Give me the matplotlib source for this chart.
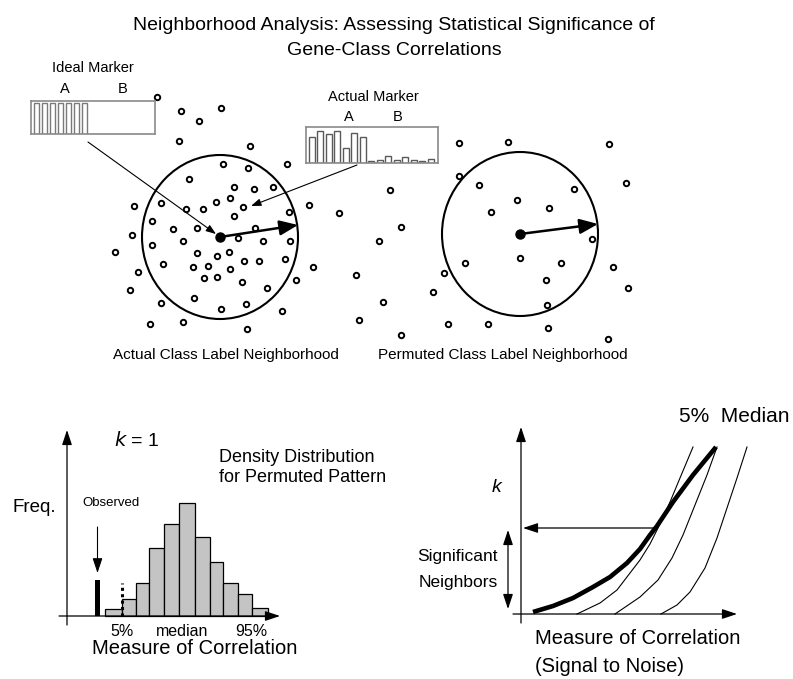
import numpy as np
import matplotlib.pyplot as plt
from matplotlib.patches import Ellipse

plt.rcParams['font.family'] = ['Liberation Sans', 'DejaVu Sans']

W, H = 793, 679

# ------------------------------------------------------------
# Data
# ------------------------------------------------------------
# gene positions (pixel space of the top panel)
genes_x = [157, 181, 221, 199, 179, 250, 223, 248, 287, 189, 234, 254, 273, 161,
           134, 216, 230, 186, 203, 243, 234, 289, 309, 152, 173, 197, 255, 132,
           238, 183, 263, 290, 152, 115, 197, 217, 229, 163, 259, 285, 244, 193,
           208, 230, 313, 138, 204, 217, 296, 242, 130, 267, 194, 161, 246, 221,
           282, 150, 183, 247,
           459, 508, 609, 459, 479, 574, 626, 390, 517, 549, 491, 339, 401, 379,
           592, 520, 561, 465, 444, 613, 356, 546, 628, 433, 383, 547, 359, 448,
           488, 401, 548, 608]
genes_y = [97, 111, 108, 121, 141, 146, 164, 168, 164, 179, 187, 189, 187, 203,
           206, 202, 198, 209, 209, 207, 216, 212, 205, 221, 229, 228, 228, 235,
           238, 241, 241, 241, 245, 252, 253, 256, 252, 264, 261, 259, 261, 267,
           266, 269, 267, 272, 278, 277, 280, 282, 290, 288, 298, 303, 304, 309,
           311, 324, 322, 329,
           143, 142, 144, 176, 185, 189, 183, 190, 200, 208, 212, 213, 227, 241,
           239, 258, 263, 263, 273, 267, 275, 280, 288, 292, 302, 305, 320, 324,
           324, 335, 328, 339]

# neighbourhood centres and radii
centers_x = [220, 520]
centers_y = [237, 234]
radius_tip_x = [298, 598]
radius_tip_y = [225, 224]

# marker expression profiles: 7 class A samples, 8 class B samples
ideal_marker = [1, 1, 1, 1, 1, 1, 1, 0, 0, 0, 0, 0, 0, 0, 0]
actual_marker = [26, 32, 29, 32, 15, 30, 26, 2, 3, 7, 3, 6, 3, 2, 4]

# permuted density histogram (k = 1)
bin_edges = [38, 55, 69, 82, 97, 112, 128, 143, 156, 171, 185, 201]
bin_freq = [7, 17, 33, 68, 92, 113, 79, 54, 33, 22, 8]
observed_x = 30.5
observed_freq = 36
cut_5pct = 55
cut_5pct_h = 33

# significant neighbours vs correlation
thick_x = [12, 32, 52, 72, 89, 106, 119, 129, 136, 152, 172, 195]
thick_y = [2, 8, 16, 27, 37, 51, 65, 79, 88, 112, 139, 167]
curve_5_x = [56, 79, 96, 109, 119, 129, 137, 149, 159, 172]
curve_5_y = [0, 11, 24, 41, 54, 70, 86, 112, 136, 167]
curve_med_x = [94, 119, 137, 151, 162, 174, 186, 196]
curve_med_y = [0, 17, 34, 56, 79, 109, 139, 167]
curve_hi_x = [140, 156, 169, 184, 196, 206, 216, 226]
curve_hi_y = [0, 9, 22, 46, 76, 106, 136, 167]
k_observed = 86


def px_axes(left, top, right, bottom):
    return fig.add_axes([left / W, 1 - bottom / H, (right - left) / W, (bottom - top) / H])


def arrow(ax, start, end, lw=1.0, hl=0.8, hw=0.3, style='-|>'):
    ax.annotate('', xy=end, xytext=start,
                arrowprops=dict(arrowstyle=f'{style},head_length={hl},head_width={hw}',
                                lw=lw, color='black', shrinkA=0, shrinkB=0))


fig = plt.figure(figsize=(W / 100, H / 100), dpi=100)

# ------------------------------------------------------------
# Overlay / top panel in pixel coordinates
# ------------------------------------------------------------
ax = fig.add_axes([0, 0, 1, 1])
ax.set_xlim(0, W)
ax.set_ylim(H, 0)
ax.axis('off')

ax.text(394, 30, 'Neighborhood Analysis: Assessing Statistical Significance of',
        ha='center', va='baseline', fontsize=14)
ax.text(394, 55, 'Gene-Class Correlations', ha='center', va='baseline', fontsize=14)

ax.plot(genes_x, genes_y, 'o', ms=3.9, mfc='white', mec='black', mew=1.4, ls='none')
for cx, cy in zip(centers_x, centers_y):
    ax.add_patch(Ellipse((cx, cy), 156, 164, fill=False, lw=1.5, ec='black'))
ax.plot(centers_x, centers_y, 'o', ms=6.5, color='black', ls='none')
for cx, cy, tx, ty in zip(centers_x, centers_y, radius_tip_x, radius_tip_y):
    arrow(ax, (cx, cy), (tx, ty), lw=1.8, hl=1.1, hw=0.45)

# pointers from the marker boxes
arrow(ax, (88, 142), (216, 234), lw=0.8, hl=0.6, hw=0.22)
arrow(ax, (357, 165), (251, 206), lw=0.8, hl=0.6, hw=0.22)

ax.text(93, 68, 'Ideal Marker', ha='center', va='center', fontsize=10.5)
ax.text(65, 89, 'A', ha='center', va='center', fontsize=10.5)
ax.text(123, 89, 'B', ha='center', va='center', fontsize=10.5)
ax.text(373, 97, 'Actual Marker', ha='center', va='center', fontsize=10.5)
ax.text(349, 117, 'A', ha='center', va='center', fontsize=10.5)
ax.text(398, 117, 'B', ha='center', va='center', fontsize=10.5)

ax.text(113, 355, 'Actual Class Label Neighborhood', ha='left', va='center', fontsize=11)
ax.text(378, 355, 'Permuted Class Label Neighborhood', ha='left', va='center', fontsize=11)

# bottom-left labels
ax.text(137, 440, r'$\it{k}$ = 1', ha='center', va='center', fontsize=14)
ax.text(219, 457, 'Density Distribution', ha='left', va='center', fontsize=13)
ax.text(219, 477, 'for Permuted Pattern', ha='left', va='center', fontsize=13)
ax.text(13, 507, 'Freq.', ha='left', va='center', fontsize=13.5)
ax.text(111, 503, 'Observed', ha='center', va='center', fontsize=9.5)
ax.text(122, 632, '5%', ha='center', va='center', fontsize=11.5)
ax.text(182, 632, 'median', ha='center', va='center', fontsize=11.5)
ax.text(251, 632, '95%', ha='center', va='center', fontsize=11.5)
ax.text(195, 649, 'Measure of Correlation', ha='center', va='center', fontsize=14.5)

# bottom-right labels
ax.text(679, 416, '5%  Median', ha='left', va='center', fontsize=15)
ax.text(497, 488, 'k', ha='center', va='center', fontsize=14, style='italic')
ax.text(498, 557, 'Significant', ha='right', va='center', fontsize=12.5)
ax.text(498, 583, 'Neighbors', ha='right', va='center', fontsize=12.5)
ax.text(535, 638, 'Measure of Correlation', ha='left', va='center', fontsize=14.5)
ax.text(535, 667, '(Signal to Noise)', ha='left', va='center', fontsize=14.5)

# ------------------------------------------------------------
# Marker profiles
# ------------------------------------------------------------
for box, values, top, ec in [((31, 101, 155, 134), ideal_marker, 1.08, '#7a7a7a'),
                             ((306, 127, 438, 163), actual_marker, 36, '#5a5a5a')]:
    mx = px_axes(*box)
    mx.bar(range(len(values)), values, width=0.72, color='white', edgecolor=ec, lw=1.0)
    slot = (box[2] - box[0]) / 15.5
    mx.set_xlim(-0.36 - 2.5 / slot, -0.36 - 2.5 / slot + 15.5)
    mx.set_ylim(0, top)
    mx.set_xticks([])
    mx.set_yticks([])
    for s in mx.spines.values():
        s.set_color('#8a8a8a')
        s.set_linewidth(1.2)

# ------------------------------------------------------------
# Histogram of permuted correlations
# ------------------------------------------------------------
hx = px_axes(40, 420, 300, 640)
hx.set_xlim(-27, 233)
hx.set_ylim(-24, 196)
hx.axis('off')
hx.bar(bin_edges[:-1], bin_freq, width=np.diff(bin_edges), align='edge',
       color='#c4c4c4', edgecolor='black', lw=0.9)
hx.bar(observed_x, observed_freq, width=5, color='black')
hx.plot([cut_5pct, cut_5pct], [0, cut_5pct_h], color='black', lw=2.2, ls=(0, (1, 1.1)))
arrow(hx, (0, -9), (0, 186), lw=0.9, hl=0.9, hw=0.3)
arrow(hx, (-8, 0), (213, 0), lw=0.9, hl=0.9, hw=0.3)
arrow(hx, (observed_x, 89), (observed_x, 43), lw=0.8, hl=0.9, hw=0.3)

# ------------------------------------------------------------
# Number of neighbours vs correlation
# ------------------------------------------------------------
cx_ = px_axes(495, 400, 760, 630)
cx_.set_xlim(-26, 239)
cx_.set_ylim(-16, 214)
cx_.axis('off')
for xs, ys in [(curve_5_x, curve_5_y), (curve_med_x, curve_med_y), (curve_hi_x, curve_hi_y)]:
    cx_.plot(xs, ys, color='black', lw=0.8)
cx_.plot(thick_x, thick_y, color='black', lw=3.3, solid_capstyle='butt')
arrow(cx_, (0, -9), (0, 187), lw=0.9, hl=0.9, hw=0.3)
arrow(cx_, (-8, 0), (216, 0), lw=0.9, hl=0.9, hw=0.3)
arrow(cx_, (136, k_observed), (2, k_observed), lw=0.9, hl=0.9, hw=0.3)
arrow(cx_, (-13, 5), (-13, k_observed - 2), lw=0.9, hl=0.9, hw=0.3, style='<|-|>')

fig.savefig('out.png', dpi=100)
